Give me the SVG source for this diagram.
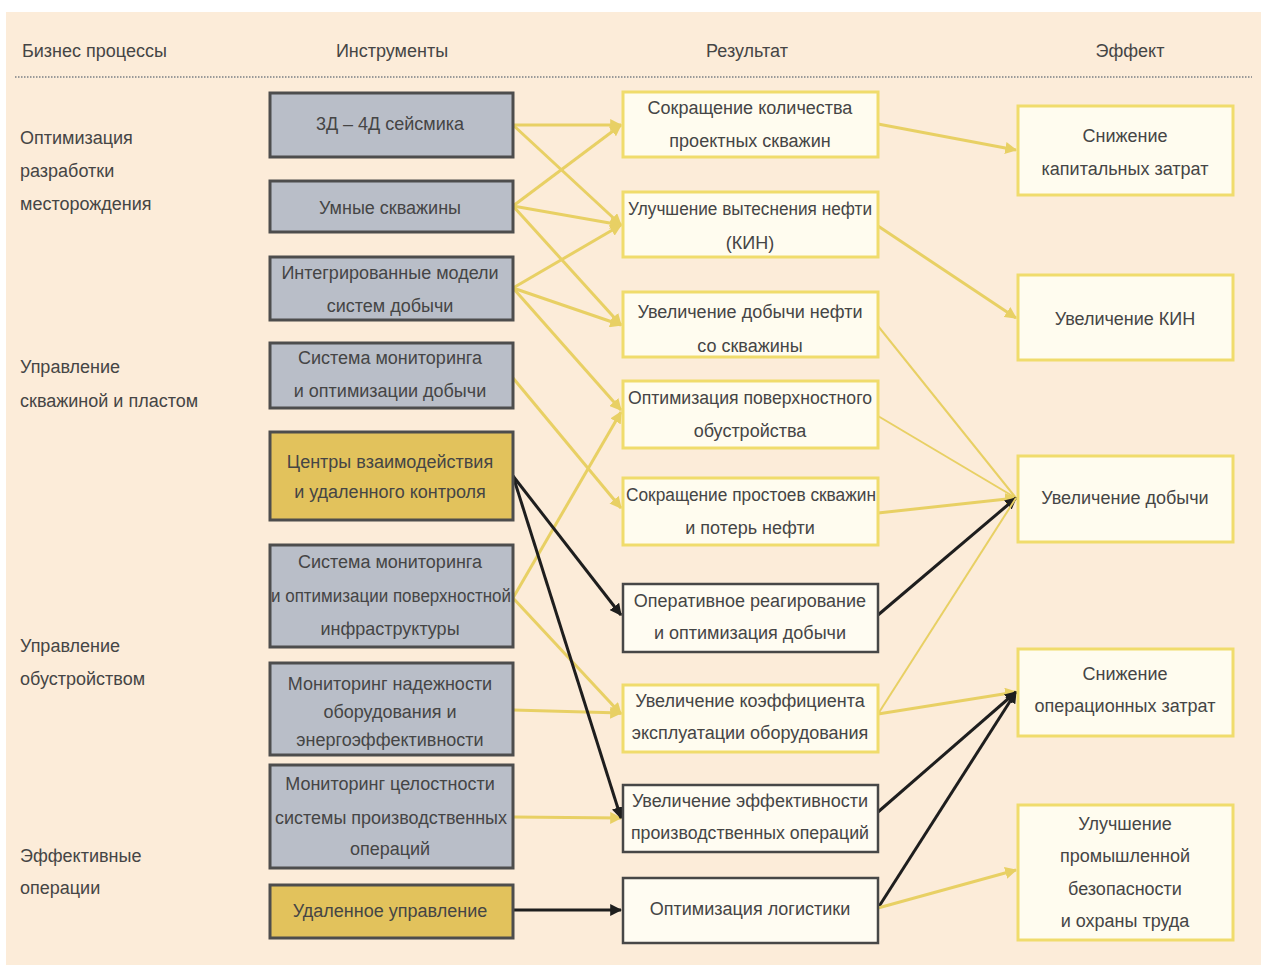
<svg xmlns="http://www.w3.org/2000/svg" width="1261" height="965" viewBox="0 0 1261 965">
<style>
text{font-family:"Liberation Sans",Arial,sans-serif;font-size:18px;fill:#454545;text-anchor:middle}
.lt{text-anchor:start}
.tool{fill:#b9bec8;stroke:#4d4d4d;stroke-width:3}
.toolY{fill:#e2c25c;stroke:#4d4d4d;stroke-width:3}
.res{fill:#fffcef;stroke:#f0dc6c;stroke-width:3}
.resD{fill:#fffcf2;stroke:#474747;stroke-width:2.5}
.eff{fill:#fffcef;stroke:#f0dc6c;stroke-width:3}
.y{stroke:#e8d064;stroke-width:3;fill:none;marker-end:url(#ay)}
.yt{stroke:#e8d064;stroke-width:2;fill:none}
.k{stroke:#1e1e1e;stroke-width:3;fill:none;marker-end:url(#ak)}
</style>
<defs>
<marker id="ay" viewBox="0 0 10 10" refX="9" refY="5" markerWidth="4" markerHeight="4" orient="auto"><path d="M0,0 L10,5 L0,10 z" fill="#e8d064"/></marker>
<marker id="ak" viewBox="0 0 10 10" refX="9" refY="5" markerWidth="4" markerHeight="4" orient="auto"><path d="M0,0 L10,5 L0,10 z" fill="#1e1e1e"/></marker>
</defs>
<rect x="0" y="0" width="1261" height="965" fill="#ffffff"/>
<rect x="6" y="12" width="1255" height="953" fill="#fcecd9"/>
<g id="headers">
<text class="lt" x="22" y="57">Бизнес процессы</text>
<text x="392" y="57">Инструменты</text>
<text x="747" y="57">Результат</text>
<text x="1130" y="57">Эффект</text>
<line x1="15" y1="77" x2="1252" y2="77" stroke="#9a9a9a" stroke-width="2" stroke-dasharray="1.5,1.5"/>
</g>
<g id="processes">
<text class="lt" x="20" y="144">Оптимизация</text>
<text class="lt" x="20" y="177">разработки</text>
<text class="lt" x="20" y="210">месторождения</text>
<text class="lt" x="20" y="373">Управление</text>
<text class="lt" x="20" y="407">скважиной и пластом</text>
<text class="lt" x="20" y="652">Управление</text>
<text class="lt" x="20" y="685">обустройством</text>
<text class="lt" x="20" y="862">Эффективные</text>
<text class="lt" x="20" y="894">операции</text>
</g>
<g id="connectors">
<line class="y" x1="513" y1="125" x2="621" y2="125"/>
<line class="y" x1="513" y1="125" x2="621" y2="225"/>
<line class="y" x1="513" y1="206" x2="621" y2="125"/>
<line class="y" x1="513" y1="206" x2="621" y2="225"/>
<line class="y" x1="513" y1="206" x2="621" y2="325"/>
<line class="y" x1="513" y1="288" x2="621" y2="225"/>
<line class="y" x1="513" y1="288" x2="621" y2="325"/>
<line class="y" x1="513" y1="288" x2="621" y2="410"/>
<line class="y" x1="513" y1="378" x2="621" y2="508"/>
<line class="y" x1="513" y1="598" x2="621" y2="412"/>
<line class="y" x1="513" y1="598" x2="621" y2="714"/>
<line class="y" x1="513" y1="710" x2="621" y2="713"/>
<line class="y" x1="513" y1="817" x2="621" y2="818"/>
<line class="k" x1="513" y1="476" x2="621" y2="615"/>
<line class="k" x1="513" y1="476" x2="621" y2="818"/>
<line class="k" x1="513" y1="910" x2="621" y2="910"/>
<line class="y" x1="878" y1="124" x2="1016" y2="150"/>
<line class="y" x1="878" y1="226" x2="1016" y2="318"/>
<line class="yt" x1="878" y1="326" x2="1016" y2="498"/>
<line class="yt" x1="878" y1="416" x2="1016" y2="498"/>
<line class="y" x1="878" y1="513" x2="1016" y2="498"/>
<line class="k" x1="878" y1="615" x2="1016" y2="498"/>
<line class="yt" x1="878" y1="714" x2="1016" y2="498"/>
<line class="y" x1="878" y1="714" x2="1016" y2="692"/>
<line class="k" x1="878" y1="812" x2="1016" y2="692"/>
<line class="k" x1="878" y1="908" x2="1016" y2="692"/>
<line class="y" x1="878" y1="908" x2="1016" y2="870"/>
</g>
<g id="t1"><rect class="tool" x="270" y="93" width="243" height="64"/><text x="390" y="130">3Д – 4Д сейсмика</text></g>
<g id="t2"><rect class="tool" x="270" y="181" width="243" height="51"/><text x="390" y="214">Умные скважины</text></g>
<g id="t3"><rect class="tool" x="270" y="257" width="243" height="63"/><text x="390" y="279">Интегрированные модели</text><text x="390" y="312">систем добычи</text></g>
<g id="t4"><rect class="tool" x="270" y="343" width="243" height="65"/><text x="390" y="364">Система мониторинга</text><text x="390" y="397">и оптимизации добычи</text></g>
<g id="t5"><rect class="toolY" x="270" y="432" width="243" height="88"/><text x="390" y="468">Центры взаимодействия</text><text x="390" y="498">и удаленного контроля</text></g>
<g id="t6"><rect class="tool" x="270" y="545" width="243" height="102"/><text x="390" y="568">Система мониторинга</text><text x="391" y="602" textLength="240" lengthAdjust="spacingAndGlyphs">и оптимизации поверхностной</text><text x="390" y="635">инфраструктуры</text></g>
<g id="t7"><rect class="tool" x="270" y="663" width="243" height="92"/><text x="390" y="690">Мониторинг надежности</text><text x="390" y="718">оборудования и</text><text x="390" y="746">энергоэффективности</text></g>
<g id="t8"><rect class="tool" x="270" y="765" width="243" height="103"/><text x="390" y="790">Мониторинг целостности</text><text x="391" y="824" textLength="232" lengthAdjust="spacingAndGlyphs">системы производственных</text><text x="390" y="855">операций</text></g>
<g id="t9"><rect class="toolY" x="270" y="885" width="243" height="53"/><text x="390" y="917">Удаленное управление</text></g>
<g id="r1"><rect class="res" x="623" y="92" width="255" height="65"/><text x="750" y="114">Сокращение количества</text><text x="750" y="147">проектных скважин</text></g>
<g id="r2"><rect class="res" x="623" y="192" width="255" height="65"/><text x="750" y="215" textLength="244" lengthAdjust="spacingAndGlyphs">Улучшение вытеснения нефти</text><text x="750" y="249">(КИН)</text></g>
<g id="r3"><rect class="res" x="623" y="292" width="255" height="65"/><text x="750" y="318">Увеличение добычи нефти</text><text x="750" y="352">со скважины</text></g>
<g id="r4"><rect class="res" x="623" y="381" width="255" height="67"/><text x="750" y="404" textLength="244" lengthAdjust="spacingAndGlyphs">Оптимизация поверхностного</text><text x="750" y="437">обустройства</text></g>
<g id="r5"><rect class="res" x="623" y="478" width="255" height="67"/><text x="751" y="501" textLength="250" lengthAdjust="spacingAndGlyphs">Сокращение простоев скважин</text><text x="750" y="534">и потерь нефти</text></g>
<g id="r6"><rect class="resD" x="623" y="584" width="255" height="68"/><text x="750" y="607">Оперативное реагирование</text><text x="750" y="639">и оптимизация добычи</text></g>
<g id="r7"><rect class="res" x="623" y="685" width="255" height="67"/><text x="750" y="707">Увеличение коэффициента</text><text x="750" y="739">эксплуатации оборудования</text></g>
<g id="r8"><rect class="resD" x="623" y="785" width="255" height="67"/><text x="750" y="807">Увеличение эффективности</text><text x="750" y="839" textLength="238" lengthAdjust="spacingAndGlyphs">производственных операций</text></g>
<g id="r9"><rect class="resD" x="623" y="878" width="255" height="65"/><text x="750" y="915">Оптимизация логистики</text></g>
<g id="e1"><rect class="eff" x="1018" y="106" width="215" height="89"/><text x="1125" y="142">Снижение</text><text x="1125" y="175">капитальных затрат</text></g>
<g id="e2"><rect class="eff" x="1018" y="275" width="215" height="85"/><text x="1125" y="325">Увеличение КИН</text></g>
<g id="e3"><rect class="eff" x="1018" y="456" width="215" height="86"/><text x="1125" y="504">Увеличение добычи</text></g>
<g id="e4"><rect class="eff" x="1018" y="649" width="215" height="87"/><text x="1125" y="680">Снижение</text><text x="1125" y="712">операционных затрат</text></g>
<g id="e5"><rect class="eff" x="1018" y="805" width="215" height="135"/><text x="1125" y="830">Улучшение</text><text x="1125" y="862">промышленной</text><text x="1125" y="895">безопасности</text><text x="1125" y="927">и охраны труда</text></g>
</svg>
